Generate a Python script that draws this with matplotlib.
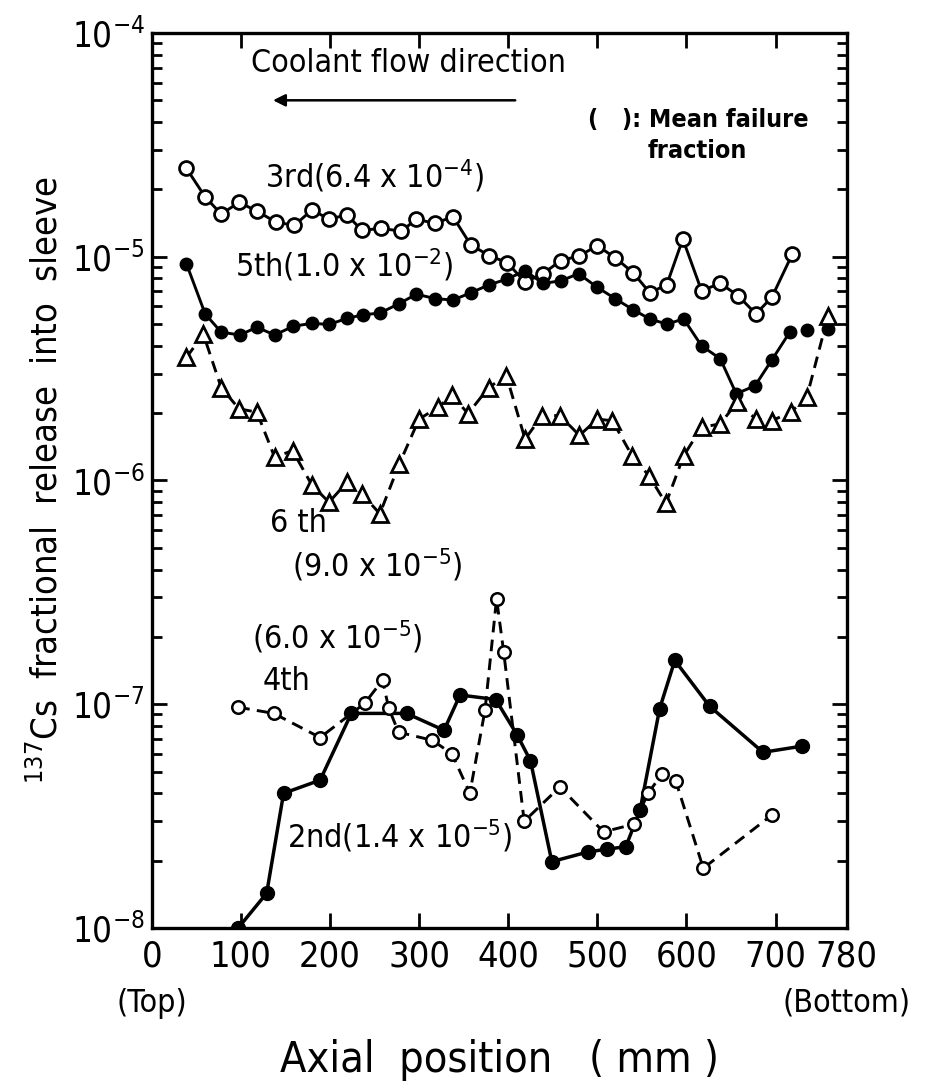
import matplotlib
matplotlib.use('Agg')
import matplotlib.pyplot as plt
import numpy as np
from matplotlib.ticker import FixedLocator, LogLocator, NullFormatter, NullLocator
from matplotlib.transforms import blended_transform_factory

# ---- data (axial position in mm, fractional release) ----
x_3rd = [39, 60, 78, 98, 118, 139, 160, 180, 199, 219, 236, 257, 280, 297, 318, 338,
         358, 379, 399, 419, 439, 459, 480, 500, 520, 540, 559, 578, 596, 617, 638,
         658, 678, 696, 719]
y_3rd = [2.48e-5, 1.85e-5, 1.55e-5, 1.75e-5, 1.60e-5, 1.43e-5, 1.38e-5, 1.62e-5, 1.47e-5,
         1.54e-5, 1.31e-5, 1.34e-5, 1.30e-5, 1.47e-5, 1.41e-5, 1.51e-5, 1.13e-5, 1.01e-5,
         9.4e-6, 7.7e-6, 8.4e-6, 9.6e-6, 1.01e-5, 1.12e-5, 9.9e-6, 8.5e-6, 6.9e-6, 7.5e-6,
         1.2e-5, 7.05e-6, 7.6e-6, 6.7e-6, 5.55e-6, 6.6e-6, 1.03e-5]

x_5th = [39, 60, 78, 99, 118, 138, 159, 180, 199, 219, 237, 256, 277, 297, 318, 338,
         358, 379, 399, 419, 439, 459, 479, 500, 520, 540, 559, 578, 597, 617, 638,
         656, 677, 696, 716, 735, 759]
y_5th = [9.3e-6, 5.55e-6, 4.6e-6, 4.47e-6, 4.84e-6, 4.47e-6, 4.89e-6, 5.04e-6, 4.98e-6,
         5.3e-6, 5.5e-6, 5.6e-6, 6.15e-6, 6.8e-6, 6.5e-6, 6.4e-6, 6.9e-6, 7.5e-6, 7.95e-6,
         8.66e-6, 7.6e-6, 7.8e-6, 8.4e-6, 7.3e-6, 6.5e-6, 5.8e-6, 5.27e-6, 5.0e-6, 5.27e-6,
         4.0e-6, 3.5e-6, 2.44e-6, 2.65e-6, 3.46e-6, 4.6e-6, 4.7e-6, 4.75e-6]
n_5th_line = 35  # last two dots are not joined by the line

x_6th = [39, 58, 78, 98, 118, 138, 158, 180, 199, 219, 236, 256, 278, 300, 321, 337,
         355, 378, 398, 419, 438, 458, 480, 500, 517, 539, 558, 577, 597, 617, 638,
         657, 678, 696, 717, 735, 759]
y_6th = [3.55e-6, 4.5e-6, 2.6e-6, 2.09e-6, 2.02e-6, 1.27e-6, 1.36e-6, 9.5e-7, 8.0e-7,
         9.8e-7, 8.7e-7, 7.1e-7, 1.19e-6, 1.88e-6, 2.12e-6, 2.4e-6, 1.99e-6, 2.6e-6,
         2.94e-6, 1.53e-6, 1.95e-6, 1.95e-6, 1.59e-6, 1.88e-6, 1.85e-6, 1.29e-6, 1.05e-6,
         7.9e-7, 1.29e-6, 1.73e-6, 1.79e-6, 2.24e-6, 1.88e-6, 1.85e-6, 2.02e-6, 2.35e-6,
         5.45e-6]

x_2nd = [97, 129, 148, 189, 224, 286, 328, 346, 386, 410, 425, 449, 490, 511, 532, 548,
         570, 587, 626, 686, 730]
y_2nd = [1.0e-8, 1.43e-8, 4.0e-8, 4.58e-8, 9.1e-8, 9.1e-8, 7.65e-8, 1.1e-7, 1.05e-7,
         7.3e-8, 5.6e-8, 1.98e-8, 2.19e-8, 2.25e-8, 2.31e-8, 3.36e-8, 9.56e-8, 1.57e-7,
         9.8e-8, 6.1e-8, 6.5e-8]

x_4th = [97, 137, 189, 239, 259, 266, 277, 315, 337, 357, 374, 387, 395, 418, 458, 507,
         541, 557, 573, 588, 619, 696]
y_4th = [9.7e-8, 9.1e-8, 7.1e-8, 1.01e-7, 1.28e-7, 9.6e-8, 7.5e-8, 6.9e-8, 6.0e-8, 4.0e-8,
         9.4e-8, 2.96e-7, 1.71e-7, 3.0e-8, 4.27e-8, 2.69e-8, 2.91e-8, 4.0e-8, 4.9e-8,
         4.55e-8, 1.85e-8, 3.2e-8]

xticks = [0, 100, 200, 300, 400, 500, 600, 700, 780]
yticks = [1e-8, 1e-7, 1e-6, 1e-5, 1e-4]

# ---- style: narrow lettering like the original drawing ----
plt.rcParams['font.family'] = ['DejaVu Sans']
plt.rcParams['font.stretch'] = 'condensed'
plt.rcParams['mathtext.fontset'] = 'custom'
plt.rcParams['mathtext.rm'] = 'DejaVu Sans:stretch=condensed'
plt.rcParams['mathtext.it'] = 'DejaVu Sans:stretch=condensed'
plt.rcParams['mathtext.bf'] = 'DejaVu Sans:stretch=condensed:weight=bold'

fig = plt.figure(figsize=(9.33, 10.84), dpi=100)
ax = fig.add_axes([0.1626, 0.1439, 0.745, 0.8257])

lw = 2.1
ax.plot(x_3rd, y_3rd, '-o', color='black', lw=lw, ms=10, mfc='white', mec='black', mew=2)
ax.plot(x_5th[:n_5th_line], y_5th[:n_5th_line], '-', color='black', lw=lw)
ax.plot(x_5th, y_5th, 'o', color='black', ms=9, ls='none')
ax.plot(x_6th, y_6th, '--^', color='black', lw=lw, dashes=(4, 2.5), ms=12,
        mfc='white', mec='black', mew=2)
ax.plot(x_2nd, y_2nd, '-o', color='black', lw=2.5, ms=10)
ax.plot(x_4th, y_4th, '--o', color='black', lw=lw, dashes=(4, 2.5), ms=9,
        mfc='white', mec='black', mew=1.8)

ax.set_yscale('log')
ax.set_xlim(0, 780)
ax.set_ylim(1e-8, 1e-4)

ax.xaxis.set_major_locator(FixedLocator(xticks))
ax.set_xticklabels([str(t) for t in xticks])
ax.xaxis.set_minor_locator(NullLocator())
ax.yaxis.set_major_locator(FixedLocator(yticks))
ax.set_yticklabels([r'$10^{%d}$' % int(np.log10(t)) for t in yticks])
ax.yaxis.set_minor_locator(LogLocator(base=10, subs=np.arange(2, 10)))
ax.yaxis.set_minor_formatter(NullFormatter())

ax.tick_params(which='both', direction='in', top=True, right=True, width=2, color='black')
ax.tick_params(which='major', length=11, labelsize=26, pad=8)
ax.tick_params(axis='y', which='major', labelsize=25, pad=5)
ax.tick_params(which='minor', length=7)
for s in ax.spines.values():
    s.set_linewidth(2.4)

ax.set_xlabel('Axial  position   ( mm )', fontsize=31)
ax.xaxis.set_label_coords(0.5, -0.1475)
ax.xaxis.label.set_va('center')
ax.set_ylabel(r'$^{137}$Cs  fractional  release  into  sleeve', fontsize=26)
ax.yaxis.set_label_coords(-0.152, 0.5)
ax.yaxis.label.set_va('center')

tr = blended_transform_factory(ax.transData, ax.transAxes)
ax.text(0, -0.084, '(Top)', transform=tr, ha='center', va='center', fontsize=23, clip_on=False)
ax.text(780, -0.084, '(Bottom)', transform=tr, ha='center', va='center', fontsize=23, clip_on=False)

# labels on the curves
fs = 23
ax.text(127, 2.3e-5, r'3rd(6.4 x 10$^{-4}$)', fontsize=fs, va='center')
ax.text(93, 9.2e-6, r'5th(1.0 x 10$^{-2}$)', fontsize=fs, va='center')
ax.text(133, 6.4e-7, '6 th', fontsize=fs, va='center')
ax.text(157, 4.2e-7, r'(9.0 x 10$^{-5}$)', fontsize=fs, va='center')
ax.text(113, 2.0e-7, r'(6.0 x 10$^{-5}$)', fontsize=fs, va='center')
ax.text(124, 1.26e-7, '4th', fontsize=fs, va='center')
ax.text(152, 2.57e-8, r'2nd(1.4 x 10$^{-5}$)', fontsize=fs, va='center')

ax.text(288, 7.3e-5, 'Coolant flow direction', fontsize=23, ha='center', va='center')
ax.annotate('', xy=(133, 5.0e-5), xytext=(411, 5.0e-5),
            arrowprops=dict(arrowstyle='-|>', color='black', lw=1.8, mutation_scale=18))
ax.text(490, 4.08e-5, '(   ): Mean failure', fontsize=18, fontweight='bold', va='center')
ax.text(557, 2.97e-5, 'fraction', fontsize=18, fontweight='bold', va='center')

fig.savefig('out.png', dpi=100)
